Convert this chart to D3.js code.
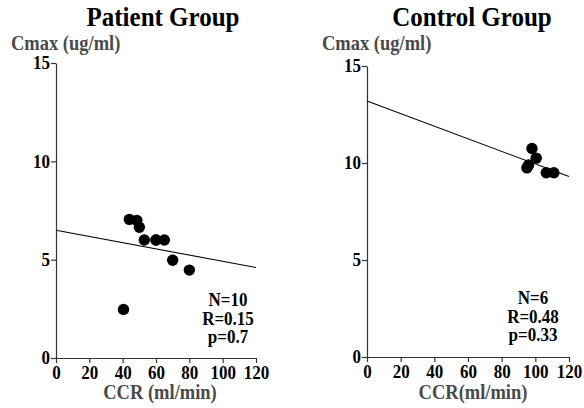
<!DOCTYPE html>
<html>
<head>
<meta charset="utf-8">
<script src="https://cdn.jsdelivr.net/npm/d3@7"></script>
<style>
  body { margin: 0; background: #fff; }
</style>
</head>
<body>
<div id="chart"></div>
<script>
// data
const PATIENT_CCR  = [44, 48.5, 50, 53, 60, 60, 65, 70, 80, 40.5];
const PATIENT_CMAX = [7.05, 7.0, 6.65, 6.0, 6.0, 6.0, 6.0, 4.97, 4.47, 2.47];
const PATIENT_FIT  = [6.5, 4.6];    // fitted Cmax at CCR 0 and 120
const PATIENT_STATS = ["N=10", "R=0.15", "p=0.7"];

const CONTROL_CCR  = [98, 100.5, 95, 96, 106.5, 111];
const CONTROL_CMAX = [10.75, 10.25, 9.75, 9.9, 9.5, 9.5];
const CONTROL_FIT  = [13.2, 9.3];
const CONTROL_STATS = ["N=6", "R=0.48", "p=0.33"];

const X_TICKS = [0, 20, 40, 60, 80, 100, 120];
const Y_TICKS = [0, 5, 10, 15];

const FONT = "Liberation Serif";
const STRETCH = 1.1;   // the original text is a bit taller than wide

const svg = d3.select('#chart')
  .append('svg')
  .attr('width', 584)
  .attr('height', 408);

// every text gets its font set on itself
function serif(sel, size) {
  return sel.attr('font-family', FONT)
    .attr('font-weight', 'bold')
    .attr('font-size', size);
}

// text placed at (x, y), stretched vertically
function label(x, y, size, str) {
  return serif(svg.append('text'), size)
    .attr('transform', `translate(${x},${y}) scale(1,${STRETCH})`)
    .text(str);
}

const panels = [
  {title: "Patient Group", xlab: "CCR (ml/min)", ccr: PATIENT_CCR, cmax: PATIENT_CMAX, fit: PATIENT_FIT, stats: PATIENT_STATS,
   left: 56, right: 256, top: 63, bottom: 358, titleX: 163, ylabX: 11, xlabX: 160, statsX: 228, statsY: 306},
  {title: "Control Group", xlab: "CCR(ml/min)", ccr: CONTROL_CCR, cmax: CONTROL_CMAX, fit: CONTROL_FIT, stats: CONTROL_STATS,
   left: 367, right: 569, top: 66, bottom: 357, titleX: 472, ylabX: 322, xlabX: 473, statsX: 533, statsY: 304}
];

panels.forEach(function(p) {
  const x = d3.scaleLinear().domain([0, 120]).range([p.left, p.right]);
  const y = d3.scaleLinear().domain([0, 15]).range([p.bottom, p.top]);

  // axes
  const gx = svg.append('g')
    .attr('transform', `translate(0, ${p.bottom})`)
    .call(d3.axisBottom(x).tickValues(X_TICKS).tickSize(5).tickSizeOuter(0).tickPadding(2));
  const gy = svg.append('g')
    .attr('transform', `translate(${p.left}, 0)`)
    .call(d3.axisLeft(y).tickValues(Y_TICKS).tickSize(5).tickSizeOuter(0).tickPadding(1));

  [gx, gy].forEach(function(g) {
    g.attr('font-family', null).attr('font-size', null);
    g.select('.domain').attr('stroke', '#333').attr('stroke-width', 1.2);
    g.selectAll('.tick line').attr('stroke', '#333').attr('stroke-width', 1.2);
    serif(g.selectAll('.tick text'), 17)
      .attr('fill', '#000')
      .attr('transform', `scale(1,${STRETCH})`);
  });

  // regression line
  svg.append('line')
    .attr('x1', x(0)).attr('y1', y(p.fit[0]))
    .attr('x2', x(120)).attr('y2', y(p.fit[1]))
    .attr('stroke', '#000')
    .attr('stroke-width', 1.1);

  // points
  svg.append('g')
    .selectAll('circle')
    .data(p.ccr)
    .join('circle')
    .attr('cx', d => x(d))
    .attr('cy', (d, i) => y(p.cmax[i]))
    .attr('r', 5.7)
    .attr('fill', '#000');

  // titles
  label(p.titleX, 26, 25, p.title)
    .attr('text-anchor', 'middle')
    .attr('fill', '#000');

  label(p.ylabX, 50, 18.5, "Cmax (ug/ml)")
    .attr('fill', '#4a4a4a');

  label(p.xlabX, 399, 18.5, p.xlab)
    .attr('text-anchor', 'middle')
    .attr('fill', '#4a4a4a');

  p.stats.forEach(function(s, i) {
    label(p.statsX, p.statsY + i * 18.5, 17, s)
      .attr('text-anchor', 'middle')
      .attr('fill', '#000');
  });
});
</script>
</body>
</html>
